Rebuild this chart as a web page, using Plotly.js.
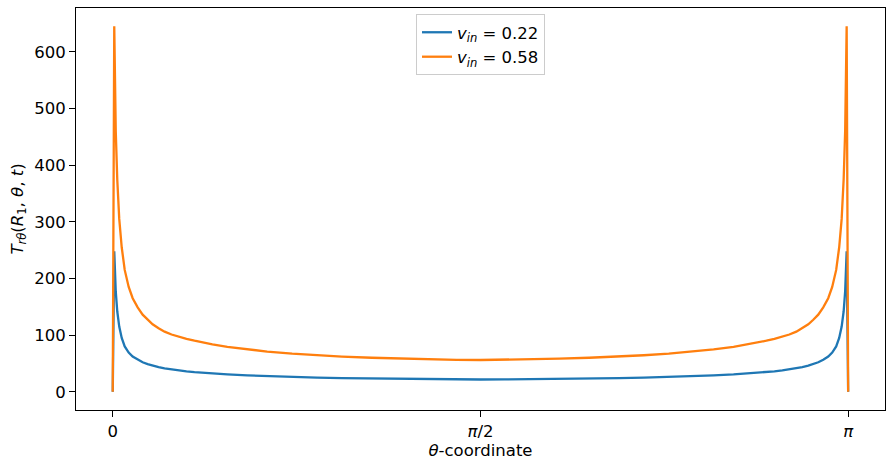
<!DOCTYPE html>
<html>
<head>
<meta charset="utf-8">
<script src="https://cdn.plot.ly/plotly-3.0.1.min.js"></script>
<style>
html, body { margin: 0; padding: 0; background: #fff; }
#chart { width: 886px; height: 461px; }
</style>
</head>
<body>
<div id="chart"></div>
<script>
// theta coordinate (radians)
const theta = [
  0, 0.0064, 0.0128, 0.0192, 0.0277, 0.0383, 0.0511, 0.0681, 0.0851, 0.1064,
  0.1277, 0.1490, 0.1703, 0.1958, 0.2214, 0.2512, 0.2810, 0.3150, 0.3491, 0.3874,
  0.4257, 0.4896, 0.5747, 0.6599, 0.7663, 0.8727, 0.9791, 1.1068, 1.2345, 1.3623,
  1.4687, 1.5708,
  1.6729, 1.7793, 1.9071, 2.0348, 2.1625, 2.2689, 2.3753, 2.4817, 2.5669, 2.6520,
  2.7159, 2.7542, 2.7925, 2.8266, 2.8606, 2.8904, 2.9202, 2.9458, 2.9713, 2.9926,
  3.0139, 3.0352, 3.0565, 3.0735, 3.0905, 3.1033, 3.1139, 3.1224, 3.1288, 3.1352,
  3.1416
];
// v_in = 0.22
const trtheta022 = [
  0, 248, 177, 142, 115, 95, 80, 69, 62, 56.5,
  52, 48.8, 46, 43.5, 41.3, 39.2, 37.5, 36, 34.7, 33.4,
  32.3, 30.7, 28.9, 27.5, 26.1, 25, 24.1, 23.3, 22.6, 22.1,
  21.8, 21.6,
  21.8, 22.1, 22.6, 23.3, 24.1, 25, 26.1, 27.5, 28.9, 30.7,
  32.3, 33.4, 34.7, 36, 37.5, 39.2, 41.3, 43.5, 46, 48.8,
  52, 56.5, 62, 69, 80, 95, 115, 142, 177, 248,
  0
];
// v_in = 0.58
const trtheta058 = [
  0, 645, 460, 375, 305, 255, 215, 185, 165, 149,
  136, 127, 119, 112, 106, 101, 97, 93.3, 90, 86.7,
  83.7, 79.3, 74.6, 70.8, 67.2, 64.4, 62.1, 60, 58.3, 57,
  56.3, 56,
  56.3, 57, 58.3, 60, 62.1, 64.4, 67.2, 70.8, 74.6, 79.3,
  83.7, 86.7, 90, 93.3, 97, 101, 106, 112, 119, 127,
  136, 149, 165, 185, 215, 255, 305, 375, 460, 645,
  0
];
const seriesNames = ['<i>v</i><sub><i>in</i></sub> = 0.22', '<i>v</i><sub><i>in</i></sub> = 0.58'];
const xTickVals = [0, Math.PI / 2, Math.PI];
const xTickText = ['0', '<i>π</i>/2', '<i>π</i>'];
const yTickVals = [0, 100, 200, 300, 400, 500, 600];

const font = {family: 'DejaVu Sans, sans-serif', size: 16.5, color: '#000'};

const traces = [
  {x: theta, y: trtheta022, type: 'scatter', mode: 'lines', name: seriesNames[0],
   line: {color: '#1f77b4', width: 2.3}},
  {x: theta, y: trtheta058, type: 'scatter', mode: 'lines', name: seriesNames[1],
   line: {color: '#ff7f0e', width: 2.3}}
];

const layout = {
  width: 886, height: 461,
  margin: {l: 76, r: 1, t: 8, b: 51},
  paper_bgcolor: '#fff', plot_bgcolor: '#fff',
  font: font,
  showlegend: true,
  legend: {x: 0.5, xanchor: 'center', y: 0.985, yanchor: 'top',
           bgcolor: 'rgba(255,255,255,0.8)', bordercolor: '#cccccc', borderwidth: 1,
           font: font},
  xaxis: {
    range: [-0.157, 3.299], tickmode: 'array', tickvals: xTickVals, ticktext: xTickText,
    showline: true, mirror: true, linecolor: '#000', linewidth: 1,
    ticks: 'outside', ticklen: 6, tickcolor: '#000', showgrid: false, zeroline: false,
    tickfont: font,
    title: {text: '<i>θ</i>-coordinate', font: font, standoff: 4}
  },
  yaxis: {
    range: [-32.25, 677.25], tickmode: 'array', tickvals: yTickVals,
    showline: true, mirror: true, linecolor: '#000', linewidth: 1,
    ticks: 'outside', ticklen: 6, tickcolor: '#000', showgrid: false, zeroline: false,
    tickfont: font,
    title: {text: '<i>T</i><sub><i>rθ</i></sub>(<i>R</i><sub>1</sub>, <i>θ</i>, <i>t</i>)', font: font, standoff: 6}
  }
};

Plotly.newPlot('chart', traces, layout, {displayModeBar: false, staticPlot: true});
</script>
</body>
</html>
